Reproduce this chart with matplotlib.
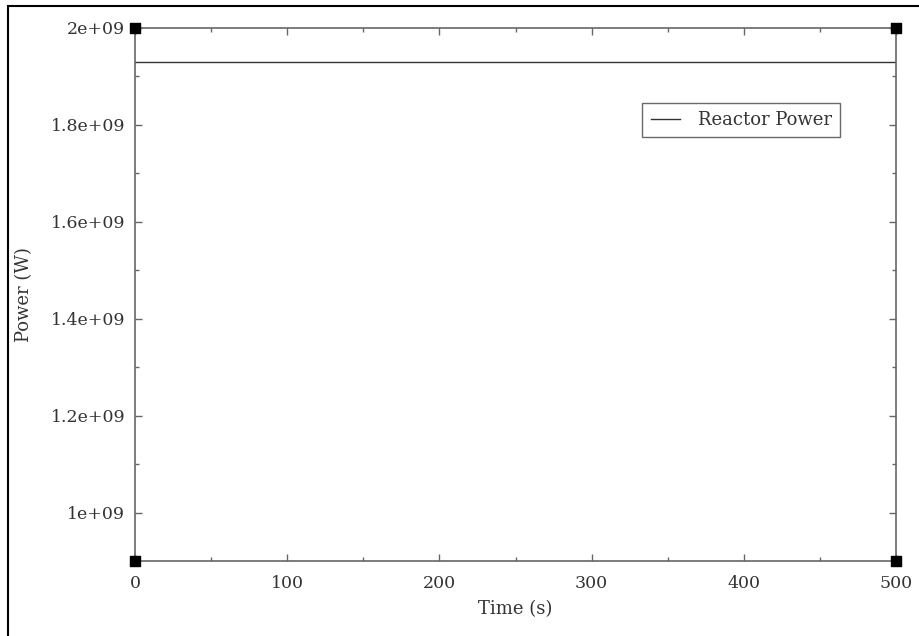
import numpy as np
import matplotlib
matplotlib.use('Agg')
import matplotlib.pyplot as plt
from matplotlib.ticker import MultipleLocator, FuncFormatter
from matplotlib.patches import Rectangle

# reactor power trace (constant over the run)
time_s = [0, 500]
power_w = [1.93e9, 1.93e9]
x_limits = (0, 500)
y_limits = (0.9e9, 2.0e9)

plt.rcParams['font.family'] = ['DejaVu Serif']
txt = '#333333'
spine = '#666666'

fig = plt.figure(figsize=(9.19, 6.36), dpi=100)
ax = fig.add_axes([135/919, 1 - 561/636, (896 - 135)/919, (561 - 28)/636])

ax.plot(time_s, power_w, color='#333333', lw=1.0, label='Reactor Power')
ax.set_xlim(*x_limits)
ax.set_ylim(*y_limits)

ax.xaxis.set_major_locator(MultipleLocator(100))
ax.xaxis.set_minor_locator(MultipleLocator(50))
ax.yaxis.set_major_locator(MultipleLocator(0.2e9))
ax.yaxis.set_minor_locator(MultipleLocator(0.1e9))
ax.yaxis.set_major_formatter(FuncFormatter(lambda v, p: '%g' % v))

ax.tick_params(which='both', direction='in', top=True, right=True,
               color=spine, labelcolor=txt, labelsize=12.5, width=1)
ax.tick_params(which='major', length=5, pad=7)
ax.tick_params(axis='x', which='major', pad=10)
ax.tick_params(which='minor', length=3)
for s in ax.spines.values():
    s.set_color(spine)
    s.set_linewidth(1.2)

# black squares on the plot corners
cx = [x_limits[0], x_limits[1], x_limits[0], x_limits[1]]
cy = [y_limits[0], y_limits[0], y_limits[1], y_limits[1]]
ax.scatter(cx, cy, marker='s', s=55, color='black', clip_on=False, zorder=5)

ax.set_xlabel('Time (s)', color=txt, fontsize=13)
ax.set_ylabel('Power (W)', color=txt, fontsize=13)
ax.xaxis.set_label_coords(0.5, -0.073)
ax.yaxis.set_label_coords(-0.134, 0.5)

leg = ax.legend(loc='upper right', bbox_to_anchor=(0.926, 0.859), fontsize=13,
                frameon=True, fancybox=False, handlelength=1.6,
                borderpad=0.45, handletextpad=1.0, borderaxespad=0,
                labelcolor=txt)
leg.get_frame().set_edgecolor('#444444')
leg.get_frame().set_linewidth(1.0)

# outer frame, left and top edges visible
fig.patches.append(Rectangle((8/919, -0.1), 1.2, 1.1 - 6/636, transform=fig.transFigure,
                             fill=False, edgecolor='black', lw=1.5))

fig.savefig('out.png', dpi=100)
